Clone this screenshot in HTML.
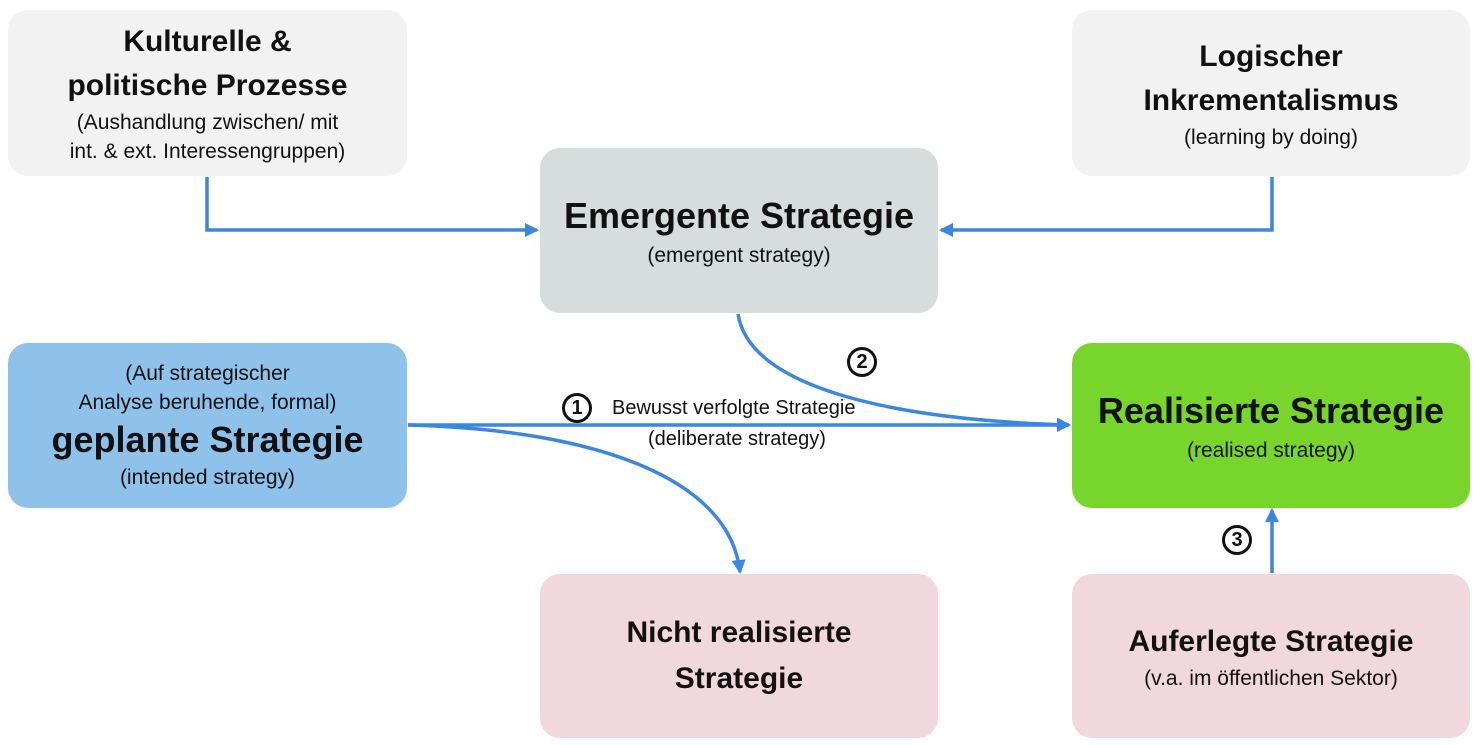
<!DOCTYPE html>
<html><head><meta charset="utf-8"><style>
body{margin:0;width:1477px;height:745px;background:#fff;position:relative;overflow:hidden;font-family:"Liberation Sans",sans-serif;color:#111}
.b{position:absolute;border-radius:20px;display:flex;flex-direction:column;justify-content:center;align-items:center;text-align:center}
.t{font-weight:bold;font-size:30px;line-height:44px}
.s{font-size:21px;line-height:29px}
.n{position:absolute;font-size:20px}
.c{position:absolute;width:30px;height:30px;border:3px solid #111;border-radius:50%;box-sizing:border-box;font-weight:bold;font-size:20px;line-height:24px;text-align:center}
</style></head><body>
<div class="b" style="left:8px;top:10px;width:399px;height:166px;background:#f2f2f2"><div class="t">Kulturelle &amp;<br>politische Prozesse</div><div class="s">(Aushandlung zwischen/ mit<br>int. &amp; ext. Interessengruppen)</div></div>
<div class="b" style="left:1072px;top:10px;width:398px;height:166px;background:#f2f2f2"><div class="t">Logischer<br>Inkrementalismus</div><div class="s">(learning by doing)</div></div>
<div class="b" style="left:540px;top:148px;width:398px;height:165px;background:#d7dddc"><div class="t" style="font-size:36px;line-height:50px">Emergente Strategie</div><div class="s">(emergent strategy)</div></div>
<div class="b" style="left:8px;top:343px;width:399px;height:165px;background:#8fc2eb"><div class="s">(Auf strategischer<br>Analyse beruhende, formal)</div><div class="t" style="font-size:36px;line-height:46px">geplante Strategie</div><div class="s">(intended strategy)</div></div>
<div class="b" style="left:1072px;top:343px;width:398px;height:165px;background:#78d52b"><div class="t" style="font-size:36px;line-height:50px">Realisierte Strategie</div><div class="s">(realised strategy)</div></div>
<div class="b" style="left:540px;top:574px;width:398px;height:164px;background:#f1d8de"><div class="t" style="line-height:46px">Nicht realisierte<br>Strategie</div></div>
<div class="b" style="left:1072px;top:574px;width:398px;height:164px;background:#f1d8de"><div class="t">Auferlegte Strategie</div><div class="s">(v.a. im öffentlichen Sektor)</div></div>
<svg width="1477" height="745" style="position:absolute;left:0;top:0">
<defs><marker id="a" markerWidth="14" markerHeight="14" refX="12" refY="7" orient="auto" markerUnits="userSpaceOnUse"><path d="M0,0 L14,7 L0,14 z" fill="#3b86e0"/></marker></defs>
<g fill="none" stroke="#3b86e0" stroke-width="3.5">
<path d="M207,177 V230 H537" marker-end="url(#a)"/>
<path d="M1272,177 V230 H941" marker-end="url(#a)"/>
<path d="M738,314 C750,390 900,420 1069,425" marker-end="url(#a)"/>
<path d="M408,425 H1069" marker-end="url(#a)"/>
<path d="M408,425 C600,430 730,480 740,572" marker-end="url(#a)"/>
<path d="M1272,573 V510" marker-end="url(#a)"/>
</g></svg>
<div class="c" style="left:562px;top:393px">1</div>
<div class="c" style="left:847px;top:347px">2</div>
<div class="c" style="left:1222px;top:525px">3</div>
<div class="n" style="left:612px;top:397px">Bewusst verfolgte Strategie</div>
<div class="n" style="left:648px;top:428px">(deliberate strategy)</div>
</body></html>
